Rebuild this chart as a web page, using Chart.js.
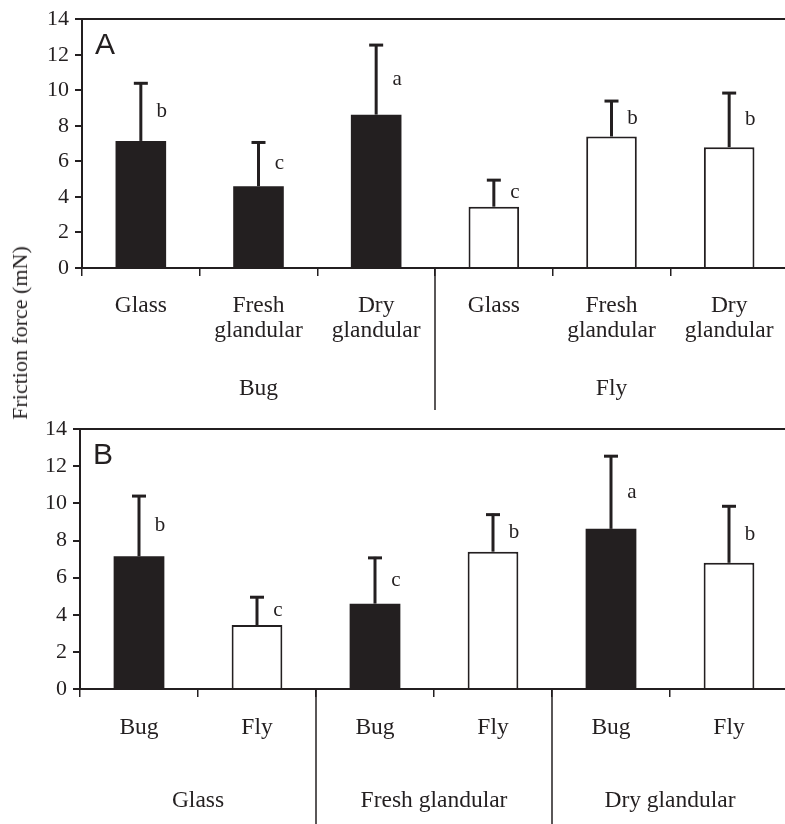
<!DOCTYPE html>
<html>
<head>
<meta charset="utf-8">
<script src="https://cdn.jsdelivr.net/npm/chart.js@4.4.1/dist/chart.umd.min.js"></script>
<style>
  body { margin: 0; background: #fff; }
  #wrap { position: relative; width: 785px; height: 824px; overflow: hidden; }
  #chartA { position: absolute; left: 0; top: 0; }
  #chartB { position: absolute; left: 0; top: 410px; }
  #ytitle {
    position: absolute; left: 20px; top: 333px;
    transform: translate(-50%, -50%) rotate(-90deg);
    white-space: nowrap; font: 22px "Liberation Serif", serif; color: #231f20;
  }
</style>
</head>
<body>
<div id="wrap">
  <canvas id="chartA" width="788" height="410"></canvas>
  <canvas id="chartB" width="788" height="414"></canvas>
  <div id="ytitle">Friction force (mN)</div>
</div>
<script>
// data (mean friction force and upper error, mN)
const substrates = ['Glass', 'Fresh glandular', 'Dry glandular'];
const insects = ['Bug', 'Fly'];
const bugMean = [7.15, 4.6, 8.63];
const bugSD = [3.3, 2.52, 3.97];
const flyMean = [3.45, 7.4, 6.8];
const flySD = [1.55, 2.05, 3.1];
const bugLetters = ['b', 'c', 'a'];
const flyLetters = ['c', 'b', 'b'];
const yTicks = [0, 2, 4, 6, 8, 10, 12, 14];

const dark = '#231f20';
const serif = '"Liberation Serif", "Times New Roman", serif';

const means = { Bug: bugMean, Fly: flyMean };
const sds = { Bug: bugSD, Fly: flySD };
const letters = { Bug: bugLetters, Fly: flyLetters };

// panel A: grouped by insect, panel B: grouped by substrate
function rowsA() {
    const rows = [];
    insects.forEach(ins => substrates.forEach((s, j) => rows.push({
        label: s.split(' '), ins: ins, mean: means[ins][j], sd: sds[ins][j], letter: letters[ins][j]
    })));
    return rows;
}
function rowsB() {
    const rows = [];
    substrates.forEach((s, j) => insects.forEach(ins => rows.push({
        label: [ins], ins: ins, mean: means[ins][j], sd: sds[ins][j], letter: letters[ins][j]
    })));
    return rows;
}

// error bars, letters, category labels and group dividers
const decor = {
    id: 'decor',
    afterDatasetsDraw(chart, args, opts) {
        const ctx = chart.ctx;
        const x = chart.scales.x, y = chart.scales.y;
        const area = chart.chartArea;
        const meta = chart.getDatasetMeta(0);
        const rows = opts.rows;
        ctx.save();
        rows.forEach((r, i) => {
            const bx = meta.data[i].x;
            const yb = y.getPixelForValue(r.mean);
            const yt = y.getPixelForValue(r.mean + r.sd);
            ctx.strokeStyle = dark;
            ctx.lineWidth = 3;
            ctx.beginPath();
            ctx.moveTo(bx, yb);
            ctx.lineTo(bx, yt);
            ctx.stroke();
            ctx.beginPath();
            ctx.moveTo(bx - 7, yt + 1);
            ctx.lineTo(bx + 7, yt + 1);
            ctx.stroke();
            ctx.fillStyle = dark;
            ctx.font = '21px ' + serif;
            ctx.textAlign = 'center';
            ctx.textBaseline = 'middle';
            ctx.fillText(r.letter, bx + 21, y.getPixelForValue(r.mean + r.sd / 2));
            // category label
            ctx.font = '23.5px ' + serif;
            r.label.forEach((line, k) => {
                ctx.fillText(line, x.getPixelForValue(i), area.bottom + opts.labelY + k * 25);
            });
        });
        // groups
        const per = opts.per;
        const step = (area.right - area.left) / rows.length;
        opts.groups.forEach((g, gi) => {
            const cx = area.left + step * per * (gi + 0.5);
            ctx.fillText(g, cx, area.bottom + opts.groupY);
            if (gi > 0) {
                const dx = area.left + step * per * gi;
                ctx.lineWidth = 1.5;
                ctx.beginPath();
                ctx.moveTo(dx, area.bottom);
                ctx.lineTo(dx, chart.height);
                ctx.stroke();
            }
        });
        // panel letter
        ctx.font = '30px "Liberation Sans", Arial, sans-serif';
        ctx.textAlign = 'left';
        ctx.textBaseline = 'alphabetic';
        ctx.fillText(opts.panel, area.left + 13, area.top + 35);
        ctx.restore();
    }
};

function makeChart(id, rows, groups, per, panel, top, left, bottomH, labelY, groupY) {
    return new Chart(document.getElementById(id), {
        type: 'bar',
        data: {
            labels: rows.map(r => r.label.join(' ')),
            datasets: [{
                data: rows.map(r => r.mean),
                backgroundColor: rows.map(r => r.ins === 'Bug' ? dark : '#ffffff'),
                borderColor: dark,
                borderWidth: rows.map(r => r.ins === 'Bug' ? 0 : 2),
                barPercentage: 0.43,
                categoryPercentage: 1
            }]
        },
        options: {
            responsive: false,
            animation: false,
            layout: { padding: { top: top, left: 0, right: 0, bottom: 0 } },
            plugins: {
                legend: { display: false },
                tooltip: { enabled: false },
                decor: { rows: rows, groups: groups, per: per, panel: panel, labelY: labelY, groupY: groupY }
            },
            scales: {
                x: {
                    offset: true,
                    ticks: { display: false },
                    grid: { offset: true, drawOnChartArea: false, tickLength: 8, color: dark, lineWidth: 1.5 },
                    border: { color: dark, width: 2 },
                    afterFit: s => { s.height = bottomH; }
                },
                y: {
                    min: 0,
                    max: 14,
                    afterBuildTicks: s => { s.ticks = yTicks.map(v => ({ value: v })); },
                    ticks: { color: dark, padding: 6, font: { family: serif, size: 22 } },
                    grid: {
                        color: c => (c.tick && c.tick.value === 14) ? dark : 'rgba(0,0,0,0)',
                        tickColor: dark,
                        lineWidth: 2,
                        tickLength: 7
                    },
                    border: { color: dark, width: 2 },
                    afterFit: s => { s.width = left; }
                }
            }
        },
        plugins: [decor]
    });
}

makeChart('chartA', rowsA(), insects, 3, 'A', 14, 82, 142, 38, 121);
makeChart('chartB', rowsB(), substrates, 2, 'B', 19, 80, 135, 39, 112);
</script>
</body>
</html>
